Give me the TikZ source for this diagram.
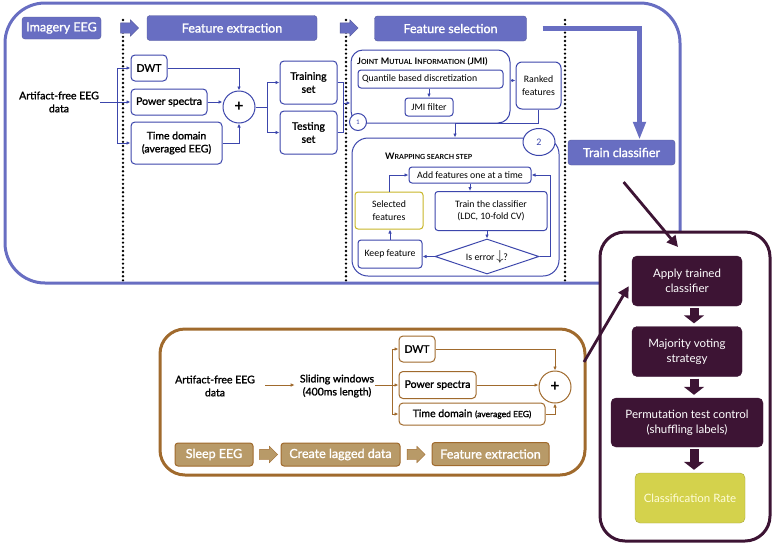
\documentclass[tikz,border=0pt]{standalone}
\usepackage{fontspec}
\setmainfont{Lato}
\newfontfamily\medf{Lato}[FakeBold=1.5]
\newfontfamily\calf{Carlito}
\usetikzlibrary{positioning, calc}
\usetikzlibrary{shapes.geometric, shapes.arrows}
\usetikzlibrary{arrows.meta}

\definecolor{bandblue}{RGB}{104,110,194}
\definecolor{lineblue}{RGB}{60,70,172}
\definecolor{darkplum}{RGB}{61,20,52}
\definecolor{sleepbrown}{RGB}{160,106,45}
\definecolor{sleepfill}{RGB}{184,154,104}
\definecolor{ratefill}{RGB}{212,210,76}
\definecolor{selyellow}{RGB}{200,182,40}

\newcommand{\smcap}[2]{{\fontsize{9}{10}\selectfont #1}{\fontsize{7}{10}\selectfont #2}}

\tikzset{
	panel/.style={line width=3pt, fill=white, inner sep=0pt},
	hdr/.style={draw=bandblue!80!black, fill=bandblue, rounded corners=3pt, text=white, inner sep=0pt, font=\medf\fontsize{12.5}{14}\selectfont},
	sleephdr/.style={draw=sleepbrown, line width=1pt, fill=sleepfill, rounded corners=3pt, text=white, inner sep=0pt, font=\medf\fontsize{12.5}{14}\selectfont},
	hdrarrow/.style={single arrow, draw=bandblue!80!black, fill=bandblue, minimum height=18pt, single arrow head extend=3pt, inner sep=5pt},
	feat/.style={draw=lineblue, line width=1pt, rounded corners=4pt, fill=white, inner sep=1pt, align=center, font=\medf\fontsize{10.5}{13}\selectfont},
	txt/.style={align=center, inner sep=1pt, font=\medf\fontsize{10.5}{13}\selectfont},
	group/.style={draw=lineblue, line width=1pt, rounded corners=12pt, fill=white, inner sep=0pt},
	wbox/.style={draw=lineblue, line width=1pt, rounded corners=3pt, fill=white, inner sep=1pt, align=center, font=\calf\fontsize{9.8}{12.5}\selectfont},
	addnode/.style={draw=lineblue, line width=1pt, circle, fill=white, inner sep=0pt, minimum size=32pt, font=\bfseries\fontsize{16}{16}\selectfont},
	stepnum/.style={draw=lineblue, line width=1pt, circle, fill=white, inner sep=0pt, text=lineblue},
	plumbox/.style={draw=darkplum, fill=darkplum, rounded corners=5pt, text=white, align=center, inner sep=1pt, font=\fontsize{11.5}{15}\selectfont},
	sectline/.style={dash pattern=on 0pt off 4.2pt, line cap=round, line width=2.6pt},
	bigarrow/.style={draw=bandblue, line width=5pt, -{Triangle[width=12pt,length=18pt]}},
	plumarrow/.style={draw=darkplum, line width=2.8pt, -{Triangle[width=11pt,length=11pt]}},
	downarrow/.style={draw=darkplum, line width=9pt, -{Triangle[width=20pt,length=8pt]}},
}

\begin{document}
\begin{tikzpicture}[x=1pt, y=-1pt]
	\useasboundingbox (0,0) rectangle (776,544);
	
	% imagery part
	\node (imgpanel) [panel, draw=bandblue, rounded corners=40pt, minimum width=675pt, minimum height=280pt] at (342.5,143) {};
	\foreach \xx/\yy in {123/283, 346/282, 565/281}
		\draw[sectline] (\xx,20) -- (\xx,\yy);
	
	\node (imagery) [hdr, minimum width=79pt, minimum height=22pt] at (61.5,28) {Imagery EEG};
	\node (hop1) [hdrarrow] at (127,28) {};
	\node (fextr) [hdr, minimum width=170pt, minimum height=25pt] at (232,28) {Feature extraction};
	\node (hop2) [hdrarrow] at (346.5,28) {};
	\node (fsel) [hdr, minimum width=152pt, minimum height=25pt] at (450.5,28.5) {Feature selection};
	\node (trainclf) [hdr, minimum width=107pt, minimum height=25pt] at (621.5,152.5) {Train classifier};
	
	\node (eeg) [txt] at (59,102) {Artifact-free EEG\\data};
	\node (dwt) [feat, minimum width=36pt, minimum height=26pt] at (149,68) {DWT};
	\node (pspec) [feat, minimum width=76pt, minimum height=26pt] at (169,102) {Power spectra};
	\node (tdom) [feat, minimum width=91pt, minimum height=42pt] at (176.5,143) {Time domain\\(averaged EEG)};
	\node (sum) [addnode] at (239,107) {+};
	\node (trainset) [feat, minimum width=57pt, minimum height=43pt] at (308.5,82.5) {Training\\set};
	\node (testset) [feat, minimum width=57pt, minimum height=43pt] at (308.5,132.5) {Testing\\set};
	\coordinate (split1) at (117,102);
	\coordinate (split2) at (267,107);
	\coordinate (merge1) at (343,103);
	
	% step 1: JMI
	\node (jmi) [group, minimum width=159pt, minimum height=73pt] at (430.5,86.5) {};
	\node (jmititle) [anchor=west, inner sep=0pt, font=\bfseries] at (357,62) {\smcap{J}{OINT} \smcap{M}{UTUAL} \smcap{I}{NFORMATION} \smcap{(JMI)}{}};
	\node (quant) [wbox, minimum width=145pt, minimum height=18pt] at (430.5,79) {\makebox[137pt][l]{Quantile based discretization}};
	\node (jmifilt) [wbox, minimum width=48pt, minimum height=18pt] at (429,107) {JMI filter};
	\node (step1) [stepnum, minimum size=17pt, font=\calf\fontsize{7}{8}\selectfont] at (358,122) {1};
	\node (ranked) [wbox, rounded corners=6pt, minimum width=45pt, minimum height=47pt] at (538.5,85.5) {Ranked\\features};
	\coordinate (merge2) at (455,123.5);
	
	% step 2: wrapping
	\node (wrap) [group, rounded corners=16pt, minimum width=207pt, minimum height=138pt] at (455.5,207) {};
	\node (step2) [stepnum, ellipse, minimum width=32pt, minimum height=27pt, font=\calf\fontsize{10}{12}\selectfont] at (539,142) {2};
	\node (wraptitle) [anchor=west, inner sep=0pt, font=\bfseries] at (385,156) {\smcap{W}{RAPPING SEARCH STEP}};
	\node (addf) [wbox, minimum width=122pt, minimum height=16pt] at (470,175) {Add features one at a time};
	\node (trainc) [wbox, minimum width=112pt, minimum height=39pt] at (491,211) {Train the classifier\\(LDC, 10-fold CV)};
	\node (selected) [wbox, draw=selyellow, minimum width=68pt, minimum height=37pt] at (389,210.5) {Selected\\features};
	\node (keep) [wbox, minimum width=64pt, minimum height=28pt] at (390,254) {Keep feature};
	\node (iserr) [wbox, diamond, sharp corners, aspect=3, inner sep=0pt, minimum width=104pt, minimum height=35pt] at (487,256.5) {Is error\,{\Large$\downarrow$}?};
	
	\draw[bigarrow, shorten <=16pt] (fsel.east) -| ([xshift=18pt]trainclf.north);
	
	\begin{scope}[lineblue, line width=0.8pt, ->, >={Latex[length=4pt,width=3.5pt]}]
		\draw (eeg.east) -- (pspec.west);
		\draw (split1) |- (dwt.west);
		\draw (split1) |- (tdom.west);
		\draw (dwt.east) -| (sum.north);
		\draw (pspec.east) -- (pspec.east -| sum.west);
		\draw (tdom.east) -| (sum.south);
		\draw[-] (sum.east) -- (split2);
		\draw (split2) |- (trainset.west);
		\draw (split2) |- (testset.west);
		\draw[-] (trainset.east) -| (merge1);
		\draw[-] (testset.east) -| (merge1);
		\draw (merge1) -- (merge1 -| jmi.west);
		
		\draw (jmifilt.north |- quant.south) -- (jmifilt.north);
		\draw ([yshift=6pt]jmi.east) -- ([yshift=6pt]jmi.east -| ranked.west);
		\draw[-] (ranked.south) |- (merge2);
		\draw (merge2) -- (merge2 |- wrap.north);
		
		\draw (addf.south) -- (addf.south |- trainc.north);
		\draw (iserr.north |- trainc.south) -- (iserr.north);
		\draw (iserr.west) -- (iserr.west -| keep.east);
		\draw (iserr.east) -- ++(11,0) |- (addf.east);
		\draw (keep.north) -- (keep.north |- selected.south);
		\draw (selected.north) |- (addf.west);
	\end{scope}
	
	% sleep part
	\node (sleeppanel) [panel, draw=sleepbrown, rounded corners=25pt, minimum width=425pt, minimum height=146pt] at (372.5,402) {};
	\node (eeg2) [txt] at (215,386) {Artifact-free EEG\\data};
	\node (slide) [txt] at (337,386) {Sliding windows\\(400ms length)};
	\node (dwt2) [feat, draw=sleepbrown, minimum width=36pt, minimum height=26pt] at (417,349) {DWT};
	\node (pspec2) [feat, draw=sleepbrown, minimum width=77pt, minimum height=27pt] at (437.5,385) {Power spectra};
	\node (tdom2) [feat, draw=sleepbrown, minimum width=146pt, minimum height=22pt] at (472,414) {Time domain {\fontsize{8.5}{9}\selectfont(averaged EEG)}};
	\node (sum2) [addnode, draw=sleepbrown] at (555,387) {+};
	\coordinate (split3) at (392,385);
	
	\node (sleep) [sleephdr, minimum width=78pt, minimum height=23pt] at (214,454.5) {Sleep EEG};
	\node (hop3) [hdrarrow, draw=sleepbrown, fill=sleepfill] at (266,454.5) {};
	\node (lagged) [sleephdr, minimum width=119pt, minimum height=23pt] at (340.5,454.5) {Create lagged data};
	\node (hop4) [hdrarrow, draw=sleepbrown, fill=sleepfill] at (413.5,454.5) {};
	\node (fextr2) [sleephdr, minimum width=117pt, minimum height=23pt] at (490.5,454) {Feature extraction};
	
	\begin{scope}[sleepbrown, line width=0.8pt, ->, >={Latex[length=4pt,width=3.5pt]}]
		\draw[shorten <=9pt, shorten >=4pt] (eeg2.east |- split3) -- (slide.west |- split3);
		\draw[-] (slide.east |- split3) -- (split3);
		\draw (split3) |- (dwt2.west);
		\draw (split3) -- (pspec2.west);
		\draw (split3) |- (tdom2.west);
		\draw (dwt2.east) -| (sum2.north);
		\draw (pspec2.east) -- (pspec2.east -| sum2.west);
		\draw (tdom2.east) -| (sum2.south);
	\end{scope}
	
	% classification part
	\node (clfpanel) [panel, draw=darkplum, rounded corners=25pt, minimum width=170pt, minimum height=309pt] at (685,386.5) {};
	\node (apply) [plumbox, minimum width=110pt, minimum height=50pt] at (687,281) {Apply trained\\classifier};
	\node (vote) [plumbox, minimum width=110pt, minimum height=50pt] at (687,351.5) {Majority voting\\strategy};
	\node (perm) [plumbox, minimum width=152pt, minimum height=49pt] at (687,422.5) {Permutation test control\\(shuffling labels)};
	\node (rate) [plumbox, fill=ratefill, draw=ratefill!80!black, text=white!85!yellow, minimum width=110pt, minimum height=50pt] at (690,498) {Classification Rate};
	
	\foreach \a/\b in {apply/vote, vote/perm, perm/rate}
		\draw[downarrow, shorten <=2pt, shorten >=3pt] (\a.south -| 694,0) -- (\b.north -| 694,0);
	
	\coordinate (applytop) at (678,247);
	\coordinate (sleepout) at (584,362);
	\draw[plumarrow, shorten <=22pt] ([xshift=-12pt]trainclf.south) -- (applytop);
	\draw[plumarrow, shorten >=6pt] (sleepout) -- (apply.west);
\end{tikzpicture}
\end{document}
